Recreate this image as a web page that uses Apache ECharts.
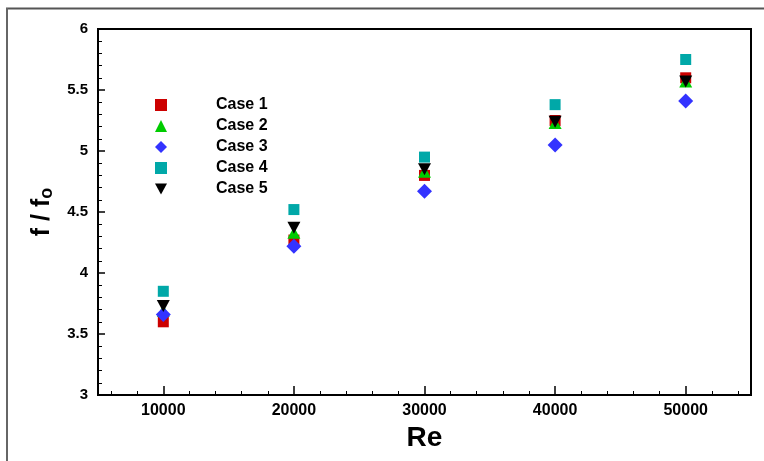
<!DOCTYPE html>
<html>
<head>
<meta charset="utf-8">
<script src="https://cdn.jsdelivr.net/npm/echarts@6/dist/echarts.min.js"></script>
<style>
html,body{margin:0;padding:0;background:#fff;}
#chart{width:764px;height:461px;}
</style>
</head>
<body>
<div id="chart"></div>
<script>
var reValues = [10000, 20000, 30000, 40000, 50000];
var case1 = [3.60, 4.27, 4.80, 5.25, 5.60];
var case2 = [3.69, 4.33, 4.83, 5.23, 5.57];
var case3 = [3.66, 4.22, 4.67, 5.05, 5.41];
var case4 = [3.85, 4.52, 4.95, 5.38, 5.75];
var case5 = [3.73, 4.37, 4.85, 5.24, 5.57];
var seriesNames = ['Case 1', 'Case 2', 'Case 3', 'Case 4', 'Case 5'];
var xMajorTicks = [10000, 20000, 30000, 40000, 50000];
var xMinorTicks = [6000, 8000, 12000, 14000, 16000, 18000, 22000, 24000, 26000, 28000,
  32000, 34000, 36000, 38000, 42000, 44000, 46000, 48000, 52000, 54000];

function pairs(ys) { return reValues.map(function (x, i) { return [x, ys[i]]; }); }

var FONT = 'Liberation Sans, Arial, sans-serif';
var downTri = 'path://M0,0L10,0L5,9Z';

var chart = echarts.init(document.getElementById('chart'), null, {renderer: 'canvas'});
var option = {
  animation: false,
  backgroundColor: '#fff',
  textStyle: {fontFamily: FONT},
  grid: {left: 98, top: 29, right: 13, bottom: 66, show: true, borderColor: '#000', borderWidth: 2, containLabel: false},
  legend: {
    orient: 'vertical', left: 150, top: 92,
    itemWidth: 12, itemHeight: 12, itemGap: 5,
    data: seriesNames,
    textStyle: {fontFamily: FONT, fontWeight: 'bold', fontSize: 16, color: '#000', padding: [0, 0, 0, 44], lineHeight: 15}
  },
  xAxis: [{
    type: 'value', min: 5000, max: 55000, position: 'bottom',
    axisLine: {show: true, onZero: false, lineStyle: {color: '#000', width: 2}},
    axisTick: {show: true, inside: true, length: 9, customValues: xMajorTicks, lineStyle: {color: '#000', width: 1.5}},
    axisLabel: {customValues: xMajorTicks, formatter: function (v) { return String(v); }, fontFamily: FONT, fontWeight: 'bold', fontSize: 16, color: '#000', margin: 8},
    splitLine: {show: false},
    name: 'Re', nameLocation: 'middle', nameGap: 29,
    nameTextStyle: {fontFamily: FONT, fontWeight: 'bold', fontSize: 28, color: '#000'}
  }, {
    type: 'value', min: 5000, max: 55000, position: 'bottom',
    axisLine: {show: false},
    axisTick: {show: true, inside: true, length: 4, customValues: xMinorTicks, lineStyle: {color: '#000', width: 1}},
    axisLabel: {show: false},
    splitLine: {show: false}
  }],
  yAxis: {
    type: 'value', min: 3, max: 6, interval: 0.5,
    axisLine: {show: true, onZero: false, lineStyle: {color: '#000', width: 2}},
    axisTick: {show: true, inside: true, length: 7, lineStyle: {color: '#000', width: 1.5}},
    minorTick: {show: true, splitNumber: 5, length: 4, lineStyle: {color: '#000', width: 1}},
    axisLabel: {fontFamily: FONT, fontWeight: 'bold', fontSize: 15, color: '#000', margin: 10},
    splitLine: {show: false},
    name: '{a|f / f}{b|o}', nameLocation: 'middle', nameGap: 35,
    nameTextStyle: {
      rich: {
        a: {fontFamily: FONT, fontWeight: 'bold', fontSize: 25, color: '#000'},
        b: {fontFamily: FONT, fontWeight: 'bold', fontSize: 18, color: '#000', padding: [10, 0, 0, 0]}
      }
    }
  },
  series: [
    {name: seriesNames[0], type: 'scatter', data: pairs(case1), symbol: 'rect', symbolSize: 11, itemStyle: {color: '#cc0000', opacity: 1}},
    {name: seriesNames[1], type: 'scatter', data: pairs(case2), symbol: 'triangle', symbolSize: [13, 12], itemStyle: {color: '#00cc00', opacity: 1}},
    {name: seriesNames[2], type: 'scatter', data: pairs(case3), symbol: 'diamond', symbolSize: 15, itemStyle: {color: '#3333ff', opacity: 1}},
    {name: seriesNames[3], type: 'scatter', data: pairs(case4), symbol: 'rect', symbolSize: 11, itemStyle: {color: '#00a8a8', opacity: 1}},
    {name: seriesNames[4], type: 'scatter', data: pairs(case5), symbol: downTri, symbolSize: [13, 12], itemStyle: {color: '#000000', opacity: 1}}
  ],
  graphic: [
    {type: 'line', shape: {x1: 6, y1: 8.5, x2: 764, y2: 8.5}, style: {stroke: '#555', lineWidth: 2}, silent: true},
    {type: 'line', shape: {x1: 7, y1: 8, x2: 7, y2: 461}, style: {stroke: '#666', lineWidth: 2}, silent: true}
  ]
};
chart.setOption(option);
</script>
</body>
</html>
